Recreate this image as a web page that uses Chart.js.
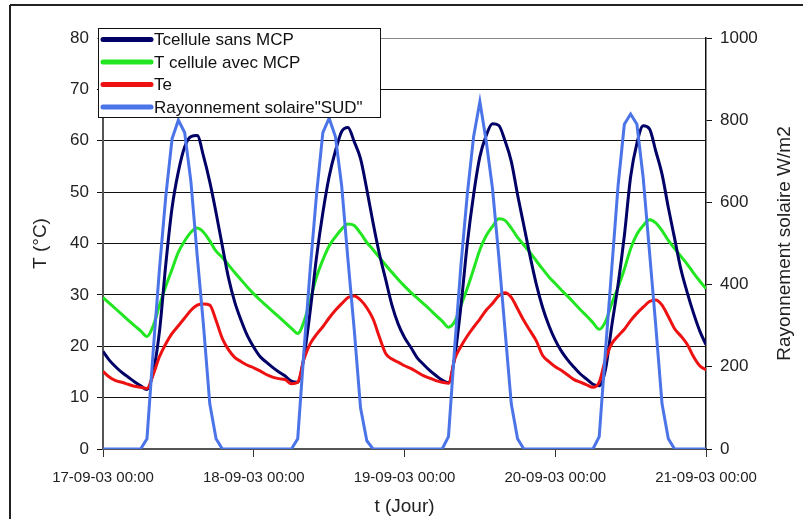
<!DOCTYPE html>
<html>
<head>
<meta charset="utf-8">
<script src="https://cdn.jsdelivr.net/npm/chart.js@4/dist/chart.umd.min.js"></script>
<style>
  html, body { margin: 0; padding: 0; background: #fff; }
</style>
</head>
<body>
<canvas id="chart" width="803" height="519"></canvas>
<script>
// time in hours since 17-09-03 00:00
const hours = [0,1,2,3,4,5,6,7,8,9,10,11,12,13,14,15,16,17,18,19,20,21,22,23,
  24,25,26,27,28,29,30,31,32,33,34,35,36,37,38,39,40,41,42,43,44,45,46,47,
  48,49,50,51,52,53,54,55,56,57,58,59,60,61,62,63,64,65,66,67,68,69,70,71,
  72,73,74,75,76,77,78,79,80,81,82,83,84,85,86,87,88,89,90,91,92,93,94,95,96]

const dayLabels = ['17-09-03 00:00', '18-09-03 00:00', '19-09-03 00:00', '20-09-03 00:00', '21-09-03 00:00']

const tSans = [19.0,17.3,16.0,14.9,14.0,13.1,12.3,11.6,15.0,23.0,36.0,47.0,54.0,58.8,60.8,61.0,57.0,52.0,46.0,39.5,33.2,28.5,25.0,22.0,
  19.8,18.0,16.9,15.9,15.0,14.2,13.2,13.0,18.0,27.0,37.4,46.0,53.0,58.0,61.8,62.6,59.8,56.5,50.5,44.0,38.0,33.0,28.0,24.3,
  21.7,19.8,17.8,16.5,15.3,14.3,13.4,12.9,18.0,28.0,40.0,49.5,56.9,61.0,63.3,63.0,60.0,56.0,49.5,43.5,37.5,32.0,27.5,24.0,
  21.2,19.0,17.3,15.9,14.6,13.6,12.6,12.3,15.5,24.0,32.0,41.5,53.0,59.5,62.9,62.3,58.0,53.5,47.0,41.0,35.0,30.5,26.5,23.0,20.3]

const tAvec = [29.5,28.4,27.3,26.2,25.1,24.0,23.0,21.9,24.0,28.0,31.7,35.0,38.3,40.5,42.2,43.0,42.2,40.5,38.5,37.3,35.8,34.3,32.9,31.5,
  30.2,29.0,27.9,26.8,25.7,24.6,23.5,22.5,24.8,29.0,33.5,36.8,39.5,41.3,42.8,43.8,43.5,42.0,40.2,38.8,37.3,35.8,34.4,33.0,
  31.7,30.5,29.4,28.3,27.2,26.0,24.9,23.7,24.8,28.0,31.3,35.0,38.8,41.5,43.3,44.8,44.5,43.0,41.2,39.7,38.2,36.6,35.0,33.5,
  32.2,30.9,29.7,28.4,27.1,25.9,24.6,23.3,24.8,28.3,31.5,35.0,39.0,41.8,43.5,44.6,44.0,42.5,40.6,39.0,37.5,36.0,34.3,32.7,31.2]

const tExt = [15.1,14.0,13.3,13.0,12.6,12.2,12.0,11.8,14.5,18.0,20.5,22.5,24.0,25.5,27.0,28.0,28.2,28.0,25.0,21.5,19.3,17.8,17.0,16.3,
  15.8,15.2,14.5,14.0,13.7,13.5,12.7,13.0,17.5,20.5,22.3,23.8,25.5,27.0,28.3,29.5,29.8,29.0,27.5,25.3,21.8,18.6,17.5,16.9,
  16.2,15.7,15.0,14.3,13.8,13.3,13.0,12.8,17.5,20.0,22.0,23.7,25.3,27.0,28.3,29.8,30.4,29.5,27.3,25.0,23.0,21.0,18.2,17.0,
  16.0,15.3,14.4,13.5,13.0,12.5,12.0,13.0,17.5,20.5,22.0,23.3,25.0,26.4,27.6,28.7,29.0,28.0,25.8,23.4,22.0,20.4,18.0,16.2,15.4]

const solar = [0,0,0,0,0,0,0,25,240,440,615,755,800,770,650,470,300,110,25,0,0,0,0,0,
  0,0,0,0,0,0,0,25,240,440,620,770,805,760,640,460,290,100,20,0,0,0,0,0,
  0,0,0,0,0,0,0,30,250,450,620,760,845,750,635,470,290,110,25,0,0,0,0,0,
  0,0,0,0,0,0,0,30,240,440,640,790,815,790,660,480,300,110,25,0,0,0,0,0,0]

const seriesNames = ['Tcellule sans MCP', 'T cellule avec MCP', 'Te', 'Rayonnement solaire"SUD"']
const seriesColors = ['#000066', '#22e622', '#ee1111', '#4a74e8']
const rightTitle = 'Rayonnement solaire W/m2'

const FONT = "'Liberation Sans', Arial, sans-serif"

const toPoints = (vals) => vals.map((v, i) => ({x: hours[i], y: v}))

const framePlugin = {
    id: 'frame',
    beforeDraw(chart) {
        const ctx = chart.ctx
        ctx.save()
        ctx.fillStyle = '#fff'
        ctx.fillRect(0, 0, chart.width, chart.height)
        ctx.restore()
    },
    afterDraw(chart) {
        const ctx = chart.ctx
        const area = chart.chartArea
        ctx.save()
        // outer frame (top and left edges only)
        ctx.strokeStyle = '#222'
        ctx.lineWidth = 2
        ctx.beginPath()
        ctx.moveTo(10, 5)
        ctx.lineTo(chart.width, 5)
        ctx.moveTo(10, 5)
        ctx.lineTo(10, chart.height)
        ctx.stroke()

        // right axis title, reading bottom to top
        ctx.save()
        ctx.translate(785, (area.top + area.bottom) / 2)
        ctx.rotate(-Math.PI / 2)
        ctx.font = '19px ' + FONT
        ctx.fillStyle = '#222'
        ctx.textAlign = 'center'
        ctx.textBaseline = 'middle'
        ctx.fillText(rightTitle, 0, 0)
        ctx.restore()

        // legend box inside plot
        const bx = 98.5, by = 28.5, bw = 282, bh = 89
        ctx.fillStyle = '#fff'
        ctx.fillRect(bx, by, bw, bh)
        ctx.strokeStyle = '#111'
        ctx.lineWidth = 1
        ctx.strokeRect(bx, by, bw, bh)
        ctx.font = '17px ' + FONT
        ctx.textBaseline = 'middle'
        ctx.textAlign = 'left'
        seriesNames.forEach((name, i) => {
            const y = 39.5 + i * 22.5
            ctx.strokeStyle = seriesColors[i]
            ctx.lineWidth = 5
            ctx.lineCap = 'round'
            ctx.beginPath()
            ctx.moveTo(103, y)
            ctx.lineTo(151, y)
            ctx.stroke()
            ctx.fillStyle = '#111'
            ctx.fillText(name, 154, y + 1)
        })
        ctx.restore()
    }
}

const ctx = document.getElementById('chart').getContext('2d')

new Chart(ctx, {
    type: 'line',
    data: {
        datasets: [
            {label: seriesNames[0], data: toPoints(tSans), borderColor: seriesColors[0], yAxisID: 'y', order: 3},
            {label: seriesNames[1], data: toPoints(tAvec), borderColor: seriesColors[1], yAxisID: 'y', order: 4},
            {label: seriesNames[2], data: toPoints(tExt), borderColor: seriesColors[2], yAxisID: 'y', order: 2},
            {label: seriesNames[3], data: toPoints(solar), borderColor: seriesColors[3], yAxisID: 'y2', order: 1, cubicInterpolationMode: 'default', tension: 0},
        ]
    },
    options: {
        responsive: false,
        animation: false,
        events: [],
        layout: {
            padding: {top: 38, left: 0, right: 0, bottom: 0}
        },
        elements: {
            point: {radius: 0},
            line: {borderWidth: 3, fill: false, cubicInterpolationMode: 'monotone'}
        },
        plugins: {
            legend: {display: false},
            tooltip: {enabled: false},
        },
        scales: {
            x: {
                type: 'linear',
                position: 'bottom',
                min: 0,
                max: 96,
                afterFit: (s) => { s.height = 70 },
                ticks: {
                    stepSize: 24,
                    autoSkip: false,
                    maxRotation: 0,
                    padding: 12,
                    color: '#222',
                    font: {family: FONT, size: 15},
                    callback: (v) => dayLabels[v / 24],
                },
                grid: {
                    drawOnChartArea: false,
                    tickLength: 8,
                    color: '#333',
                },
                border: {color: '#555', width: 2},
                title: {
                    display: true,
                    text: 't (Jour)',
                    color: '#222',
                    font: {family: FONT, size: 19},
                    padding: {top: 0, bottom: 1},
                },
            },
            y: {
                position: 'left',
                min: 0,
                max: 80,
                afterFit: (s) => { s.width = 103 },
                ticks: {
                    stepSize: 10,
                    padding: 8,
                    color: '#222',
                    font: {family: FONT, size: 17},
                },
                grid: {
                    tickLength: 6,
                    color: (c) => c.tick && c.tick.value === 80 ? '#888' : '#111',
                    lineWidth: 1,
                },
                border: {color: '#555', width: 2},
                title: {
                    display: true,
                    text: 'T (°C)',
                    color: '#222',
                    font: {family: FONT, size: 19},
                    padding: {top: 29, bottom: 0},
                },
            },
            y2: {
                position: 'right',
                min: 0,
                max: 1000,
                afterFit: (s) => { s.width = 97 },
                ticks: {
                    stepSize: 200,
                    padding: 8,
                    color: '#222',
                    font: {family: FONT, size: 17},
                    callback: (v) => String(v),
                },
                grid: {
                    drawOnChartArea: false,
                    tickLength: 6,
                    color: '#111',
                },
                border: {color: '#111', width: 1.5},
                title: {display: false},
            },
        },
    },
    plugins: [framePlugin],
})
</script>
</body>
</html>
